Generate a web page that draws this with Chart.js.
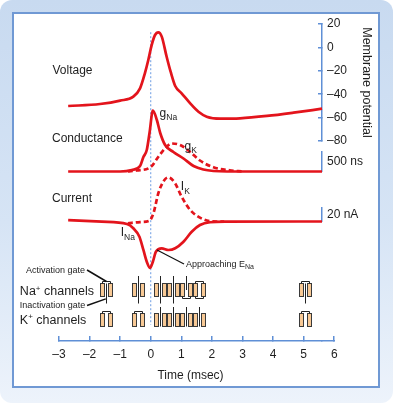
<!DOCTYPE html>
<html><head><meta charset="utf-8">
<script src="https://cdn.jsdelivr.net/npm/chart.js@4.4.1/dist/chart.umd.min.js"></script>
<style>
html,body{margin:0;padding:0;background:#fff;}
#frame{position:absolute;left:0;top:0;width:393px;height:403px;border-radius:12px;background:linear-gradient(180deg,#c8daf0 0%,#d6e4f5 55%,#edf3fb 100%);}
#panel{position:absolute;left:12px;top:12px;width:368px;height:376px;box-sizing:border-box;background:#fff;border:2px solid #7099d4;}
#c{position:absolute;left:0;top:0;}
</style></head><body>
<div id="frame"></div><div id="panel"></div>
<canvas id="c" width="393" height="403"></canvas>
<script>
// ---------------- data ----------------
const timeTicks = [-3, -2, -1, 0, 1, 2, 3, 4, 5, 6];
const voltageTicks = [-80, -60, -40, -20, 0, 20];

const voltageTime = [-2.7, -1.66, -1.0, -0.57, -0.35, -0.19, -0.08, 0.03, 0.14, 0.25, 0.36, 0.52, 0.65, 0.80, 1.01, 1.29, 1.56, 1.83, 2.27, 2.92, 3.8, 4.67, 5.6];
const voltageMv   = [-50.1, -48.4, -45.5, -42.1, -35, -22, -10.8, 2, 10.6, 12.9, 9.2, -8, -20.8, -33, -39.2, -47.8, -55, -59.2, -60.9, -60.6, -58.6, -55.8, -52.4];

const gNaTime   = [-2.7, -1.0, -0.62, -0.35, -0.24, -0.13, -0.04, 0.07, 0.2, 0.31, 0.47, 0.74, 1.07, 1.4, 1.72, 2.05, 2.5, 5.6];
const gNaValues = [0, 0, 37, 137, 362, 537, 962, 1525, 1287, 962, 662, 487, 325, 137, 50, 12, 0, 0];

const gKTime   = [-0.75, -0.46, 0.0, 0.25, 0.47, 0.69, 0.96, 1.29, 1.61, 2.05, 2.58, 3.0];
const gKValues = [0, 25, 112, 370, 580, 700, 662, 487, 275, 105, 30, 0];

const iNaTime   = [-2.7, -1.6, -0.78, -0.57, -0.37, -0.24, -0.13, -0.02, 0.07, 0.17, 0.36, 0.58, 0.80, 1.07, 1.34, 1.61, 1.94, 2.48, 5.6];
const iNaValues = [2.1, -0.3, -3.6, -9.7, -21.7, -40.7, -57.4, -66.4, -57.4, -43.1, -38.3, -40.7, -38.3, -28.9, -14.6, -5, -1.1, -0.3, 0];

const iKTime   = [-0.75, -0.35, -0.05, 0.09, 0.25, 0.41, 0.57, 0.79, 1.01, 1.29, 1.72, 2.16, 2.4];
const iKValues = [-2.5, -0.8, 1, 12, 40.7, 56.9, 63.1, 55, 35.4, 16.4, 3.1, 0, 0];

const channelTimes = [-1.45, -0.4, 0.32, 0.75, 1.17, 1.6, 5.05];
const naStates = ['resting', 'open', 'open', 'open', 'inactivated', 'recovering', 'resting'];
const kStates  = ['closed', 'closed', 'open', 'open', 'open', 'open', 'closed'];
const rowNa = 1, rowK = 0;

const stimulusTime = 0;
const stimulusSpan = [13, -237];   // mV extent of the dotted marker

const conductanceBar = 500, conductanceBarLabel = '500 ns';
const currentBar = 20, currentBarLabel = '20 nA';

// ---------------- styling ----------------
const FONT = '"Liberation Sans", Arial, Helvetica, sans-serif';
Chart.defaults.font.family = FONT;
const axisBlue = '#5f8fd6';
const red = '#e3141c';
const ink = '#1e1e1e';

function dash(v){ return v < 0 ? '\u2013' + Math.abs(v) : String(v); }
function pts(ts, vs){ return ts.map((t, i) => ({x: t, y: vs[i]})); }

function channelIcon(kind, state){
  const c = document.createElement('canvas'); c.width = 15; c.height = 32;
  const g = c.getContext('2d');
  const cy = 16;
  g.lineWidth = 1; g.strokeStyle = '#3a3a3a'; g.fillStyle = '#f8c995';
  [1.5, 9.5].forEach(x => { g.fillRect(x, cy - 6.5, 4, 13); g.strokeRect(x, cy - 6.5, 4, 13); });
  g.strokeStyle = '#222'; g.beginPath();
  const top = () => { g.moveTo(3.5, 9.5); g.lineTo(3.5, 7.5); g.lineTo(11.5, 7.5); g.lineTo(11.5, 9.5); };
  const bottom = () => { g.moveTo(3.5, 22.5); g.lineTo(3.5, 24.5); g.lineTo(11.5, 24.5); g.lineTo(11.5, 22.5); };
  if (kind === 'Na') {
    const act = (state === 'open' || state === 'inactivated') ? 'open' : 'closed';
    const inact = (state === 'inactivated' || state === 'recovering') ? 'closed' : 'open';
    if (act === 'closed') top(); else { g.moveTo(7.5, 2); g.lineTo(7.5, 16); }
    if (inact === 'open') { g.moveTo(7.5, 9.5); g.lineTo(7.5, 29.5); } else bottom();
  } else {
    if (state === 'closed') top(); else { g.moveTo(7.5, 3); g.lineTo(7.5, 22.5); }
  }
  g.stroke();
  return c;
}

const notes = [
  {parts: [['Voltage', 12]], t: -3.213, axis: 'yV', v: -22.5},
  {parts: [['Conductance', 12]], t: -3.229, axis: 'yV', v: -80.7},
  {parts: [['Current', 12]], t: -3.229, axis: 'yI', v: 27.9},
  {parts: [['g', 12], ['Na', 8.5, 3]], t: 0.29, axis: 'yG', v: 1362},
  {parts: [['g', 12], ['K', 8.5, 3]], t: 1.107, axis: 'yG', v: 537},
  {parts: [['I', 12], ['K', 8.5, 3.5]], t: 0.983, axis: 'yI', v: 45},
  {parts: [['I', 12], ['Na', 8.5, 4]], t: -0.982, axis: 'yI', v: -21.4},
  {parts: [['Approaching E', 9], ['Na', 7, 2.8]], t: 1.153, axis: 'yI', v: -64.3},
  {parts: [['Activation gate', 9]], t: -4.079, axis: 'yCh', v: 1.573},
  {parts: [['Na', 12.5], ['+', 8, -4.5], [' channels', 12.5]], t: -4.28, axis: 'yCh', v: 0.83},
  {parts: [['Inactivation gate', 9]], t: -4.285, axis: 'yCh', v: 0.383},
  {parts: [['K', 12.5], ['+', 8, -4.5], [' channels', 12.5]], t: -4.28, axis: 'yCh', v: -0.152}
];
const pointers = [
  {axis: 'yCh', from: [-2.084, 1.678], to: [-1.447, 1.288], w: 1.5},
  {axis: 'yCh', from: [-2.084, 0.475], to: [-1.47, 0.70], w: 1.5},
  {axis: 'yI', from: [0.205, -40.7], to: [1.088, -60.7], w: 1.2}
];

const overlay = {
  id: 'overlay',
  beforeDatasetsDraw(chart){ chart.ctx.save(); chart.ctx.imageSmoothingEnabled = false; },
  afterDatasetsDraw(chart){ chart.ctx.restore(); },
  afterDraw(chart){
    const ctx = chart.ctx, xs = chart.scales.x, area = chart.chartArea;
    ctx.save();
    const by = xs._borderValue !== undefined ? xs._borderValue : xs.top;
    ctx.strokeStyle = axisBlue; ctx.lineWidth = 1.5;
    ctx.beginPath(); ctx.moveTo(area.right - 1, by); ctx.lineTo(xs.getPixelForValue(timeTicks[timeTicks.length - 1]) + 0.75, by); ctx.stroke();
    ctx.strokeStyle = '#111';
    pointers.forEach(p => {
      const ys = chart.scales[p.axis];
      ctx.lineWidth = p.w;
      ctx.beginPath();
      ctx.moveTo(xs.getPixelForValue(p.from[0]), ys.getPixelForValue(p.from[1]));
      ctx.lineTo(xs.getPixelForValue(p.to[0]), ys.getPixelForValue(p.to[1]));
      ctx.stroke();
    });
    ctx.fillStyle = ink; ctx.textBaseline = 'alphabetic'; ctx.textAlign = 'left';
    notes.forEach(n => {
      let x = xs.getPixelForValue(n.t);
      const y = chart.scales[n.axis].getPixelForValue(n.v);
      n.parts.forEach(([s, size, dy]) => {
        ctx.font = size + 'px ' + FONT;
        ctx.fillText(s, x, y + (dy || 0));
        x += ctx.measureText(s).width;
      });
    });
    ctx.restore();
  }
};

const W = 52;
function stackAxis(extra){
  return Object.assign({type: 'linear', position: 'right', stack: 'right', afterFit: s => { s.width = W; }}, extra);
}
const trace = (data, axis, dashed) => ({data, yAxisID: axis, borderColor: red, borderWidth: 2.7, borderDash: dashed ? [5, 3] : [], pointRadius: 0, cubicInterpolationMode: 'monotone', fill: false, clip: false});

new Chart(document.getElementById('c'), {
  type: 'line',
  data: {
    datasets: [
      trace(pts(voltageTime, voltageMv), 'yV', false),
      trace(pts(gNaTime, gNaValues), 'yG', false),
      trace(pts(iNaTime, iNaValues), 'yI', false),
      trace(pts(gKTime, gKValues), 'yG', true),
      trace(pts(iKTime, iKValues), 'yI', true),
      {type: 'scatter', data: pts(channelTimes, channelTimes.map(() => rowNa)), yAxisID: 'yCh', showLine: false, pointRadius: 6, clip: false, pointStyle: naStates.map(s => channelIcon('Na', s))},
      {type: 'scatter', data: pts(channelTimes, channelTimes.map(() => rowK)), yAxisID: 'yCh', showLine: false, pointRadius: 6, clip: false, pointStyle: kStates.map(s => channelIcon('K', s))},
      {data: [{x: stimulusTime, y: stimulusSpan[0]}, {x: stimulusTime, y: stimulusSpan[1]}], yAxisID: 'yV', borderColor: '#6a9be2', borderWidth: 1, borderDash: [2, 2], pointRadius: 0, fill: false, clip: false}
    ]
  },
  options: {
    responsive: false, animation: false, devicePixelRatio: 1, events: [],
    layout: {padding: {left: 59, right: 19, top: 24, bottom: 14}},
    plugins: {legend: {display: false}, tooltip: {enabled: false}},
    scales: {
      x: {
        type: 'linear', min: -3, max: 5.6,
        afterBuildTicks: s => { s.ticks = timeTicks.map(v => ({value: v})); },
        afterFit: s => { s.height = 48; },
        ticks: {autoSkip: false, maxRotation: 0, padding: 11.8, color: ink, font: {size: 12}, callback: v => dash(v)},
        grid: {drawOnChartArea: false, tickLength: -5, color: axisBlue, lineWidth: 1.5},
        border: {color: axisBlue, width: 1.5},
        title: {display: true, text: 'Time (msec)', color: ink, font: {size: 12}, padding: {top: 0, bottom: 5.8}}
      },
      yV: stackAxis({
        weight: 1, stackWeight: 117, min: -80, max: 20,
        afterBuildTicks: s => { s.ticks = voltageTicks.map(v => ({value: v})); },
        ticks: {autoSkip: false, padding: 9, color: ink, font: {size: 12}, callback: v => dash(v)},
        grid: {drawOnChartArea: false, tickLength: -4, color: axisBlue, lineWidth: 1.5},
        border: {color: axisBlue, width: 1.5},
        title: {display: true, text: 'Membrane potential', color: ink, font: {size: 12.5}, padding: 0}
      }),
      s1: stackAxis({weight: 2, stackWeight: 10.5, display: false, min: 0, max: 1}),
      yG: stackAxis({
        weight: 3, stackWeight: 20, min: 0, max: conductanceBar,
        afterBuildTicks: s => { s.ticks = [{value: conductanceBar / 2}]; },
        ticks: {autoSkip: false, padding: 5, color: ink, font: {size: 12}, callback: () => conductanceBarLabel},
        grid: {drawOnChartArea: false, drawTicks: false},
        border: {color: axisBlue, width: 1.5}
      }),
      s2: stackAxis({weight: 4, stackWeight: 36, display: false, min: 0, max: 1}),
      yI: stackAxis({
        weight: 5, stackWeight: 14, min: 0, max: currentBar,
        afterBuildTicks: s => { s.ticks = [{value: currentBar / 2}]; },
        ticks: {autoSkip: false, padding: 5, color: ink, font: {size: 12}, callback: () => currentBarLabel},
        grid: {drawOnChartArea: false, drawTicks: false},
        border: {color: axisBlue, width: 1.5}
      }),
      yCh: stackAxis({weight: 6, stackWeight: 119.5, display: false, min: -0.7288, max: 3.322})
    }
  },
  plugins: [overlay]
});
</script></body></html>
